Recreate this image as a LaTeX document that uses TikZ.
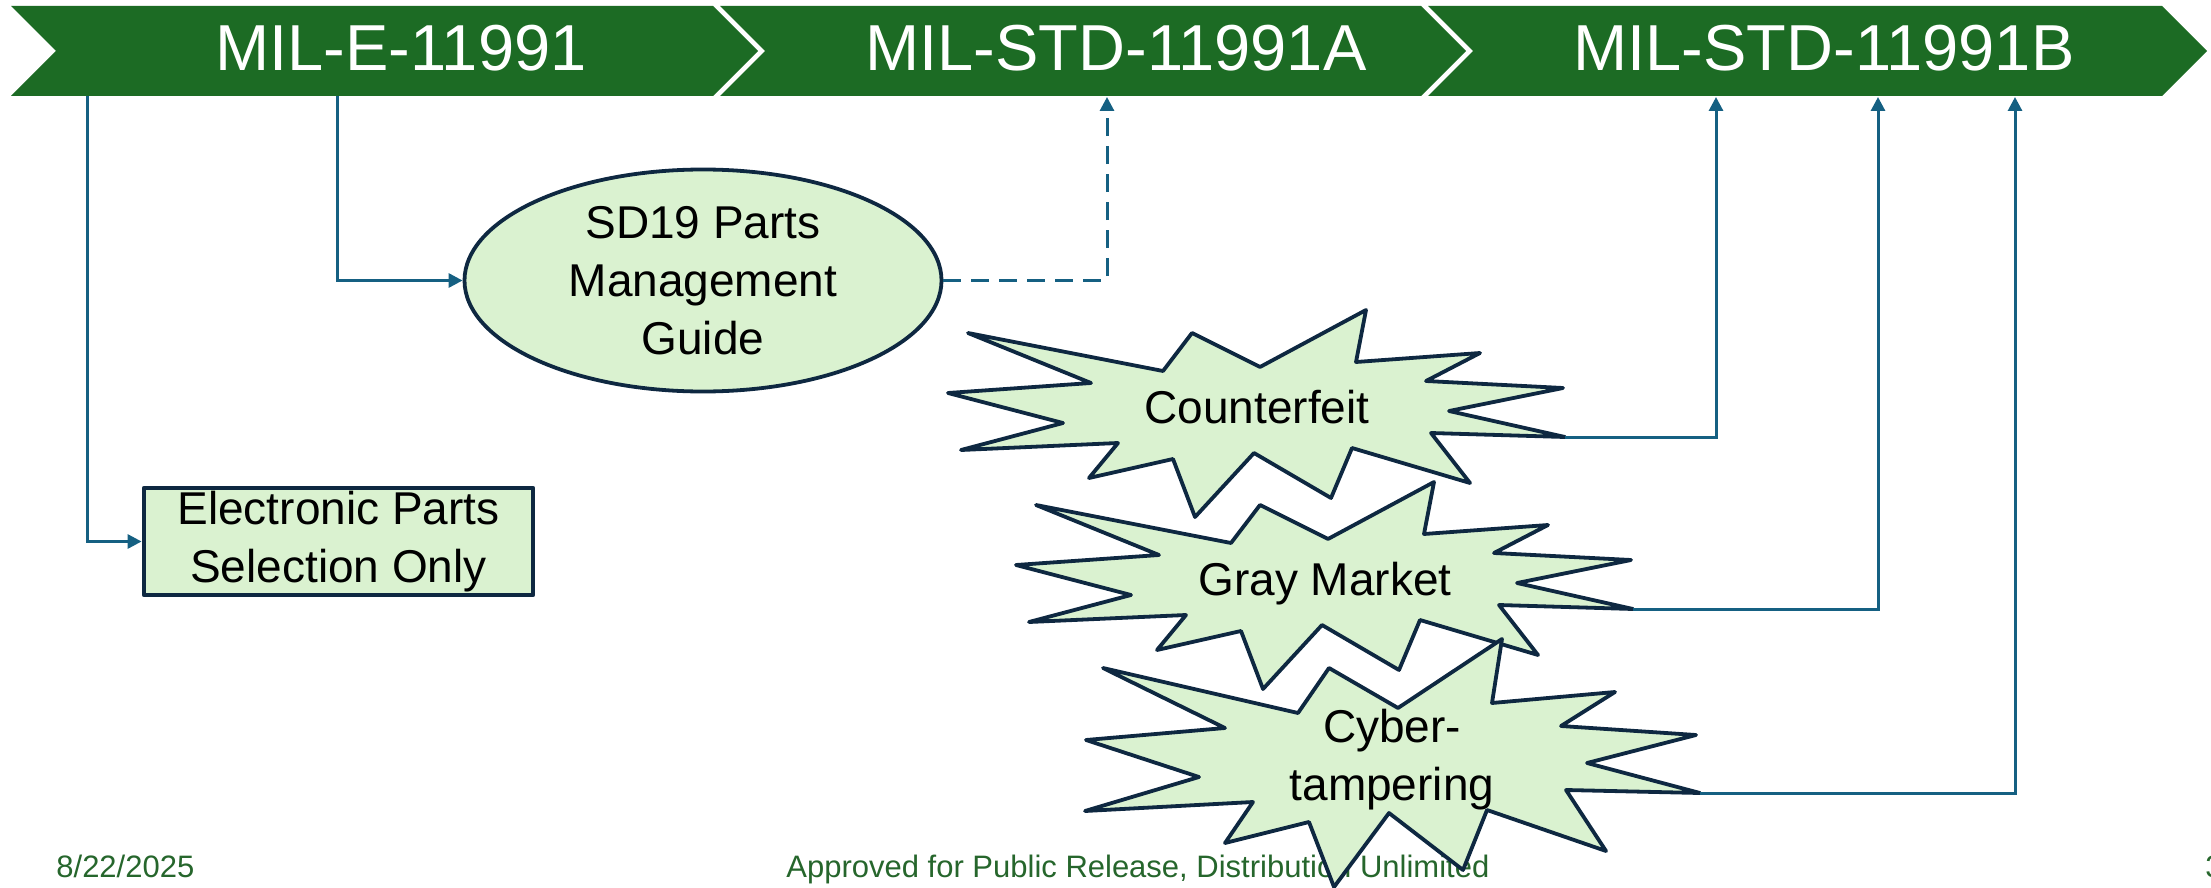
\documentclass[tikz,border=0pt]{standalone}
\usepackage{fontspec}
\setmainfont{Liberation Sans}
\usetikzlibrary{arrows.meta,shapes.geometric}
\definecolor{bandgreen}{RGB}{28,107,36}
\definecolor{lightfill}{RGB}{218,242,208}
\definecolor{navy}{RGB}{14,40,65}
\definecolor{linkblue}{RGB}{21,96,130}
\definecolor{footgreen}{RGB}{38,102,44}
\begin{document}
\begin{tikzpicture}[x=0.5pt,y=-0.5pt,
  chev/.style={fill=bandgreen, draw=none},
  bandtext/.style={text=white, font=\fontsize{32.5}{39}\selectfont, anchor=base, inner sep=0},
  shapebox/.style={draw=navy, fill=lightfill, line width=1.9pt, line join=round},
  lbl/.style={font=\fontsize{23}{29}\selectfont, align=center, text=black, inner sep=0},
  link/.style={draw=linkblue, line width=1.5pt, -{Triangle[length=7pt,width=7pt]}},
  dashlink/.style={link, dash pattern=on 9pt off 5pt},
  foot/.style={text=footgreen, font=\fontsize{15.5}{18}\selectfont, anchor=base west, inner sep=0}
]
\useasboundingbox (0,0) rectangle (2211,888);

% chevron band
\fill[chev] (11,6) -- (713,6) -- (758,51) -- (713,96) -- (11,96) -- (56,51) -- cycle;
\fill[chev] (720,6) -- (1421,6) -- (1466,51) -- (1421,96) -- (720,96) -- (765,51) -- cycle;
\fill[chev] (1428,6) -- (2162,6) -- (2207,51) -- (2162,96) -- (1428,96) -- (1473,51) -- cycle;
\node[bandtext] (t1) at (401,71) {MIL-E-11991};
\node[bandtext] (t2) at (1116,71) {MIL-STD-11991A};
\node[bandtext] (t3) at (1824,71) {MIL-STD-11991B};

% footer
\node[foot] (date) at (56,877) {8/22/2025};
\node[foot] (appr) at (786,877) {Approved for Public Release, Distribution Unlimited};
\node[foot] (pg) at (2205,877) {3};

% band anchor points
\coordinate (b1) at (87,96);
\coordinate (b2) at (337,96);
\coordinate (a1) at (1107,97);
\coordinate (c1) at (1716,97);
\coordinate (c2) at (1878,97);
\coordinate (c3) at (2015,97);

% boxes
\node[shapebox, line width=2.4pt, rectangle, minimum width=194.5pt, minimum height=53.5pt, lbl] (eps) at (338.5,541.5) {Electronic Parts\\Selection Only};
\node[shapebox, ellipse, minimum width=238.5pt, minimum height=111pt, lbl] (sd19) at (703,280.5) {SD19 Parts\\Management\\Guide};

% starbursts
\draw[shapebox] (968,333) -- (1163,371) -- (1192,333) -- (1260,367) -- (1366,310) -- (1356,362) -- (1480,353) -- (1426,381) -- (1563,388) -- (1449,411) -- (1565,437) -- (1431,433) -- (1470,483) -- (1352,448) -- (1331,498) -- (1254,453) -- (1195,517) -- (1173,459) -- (1089,478) -- (1118,443) -- (961,450) -- (1063,423) -- (948,393) -- (1091,383) -- cycle;
\coordinate (cftip) at (1565,437);
\begin{scope}[shift={(68,172)}]
\draw[shapebox] (968,333) -- (1163,371) -- (1192,333) -- (1260,367) -- (1366,310) -- (1356,362) -- (1480,353) -- (1426,381) -- (1563,388) -- (1449,411) -- (1565,437) -- (1431,433) -- (1470,483) -- (1352,448) -- (1331,498) -- (1254,453) -- (1195,517) -- (1173,459) -- (1089,478) -- (1118,443) -- (961,450) -- (1063,423) -- (948,393) -- (1091,383) -- cycle;
\coordinate (gmtip) at (1565,437);
\end{scope}
\draw[shapebox] (1103,668) -- (1298,713) -- (1329,668) -- (1398,708) -- (1502,639) -- (1492,703) -- (1615,692) -- (1561,726) -- (1696,735) -- (1587,763) -- (1700,793) -- (1566,790) -- (1606,851) -- (1487,810) -- (1463,870) -- (1389,813) -- (1334,887) -- (1309,822) -- (1225,843) -- (1253,802) -- (1085,811) -- (1199,777) -- (1086,740) -- (1225,728) -- cycle;
\coordinate (cytip) at (1700,793);

\node[lbl, anchor=base] (cf) at (1257,423) {Counterfeit};
\node[lbl, anchor=base] (gm) at (1325,595) {Gray Market};
\node[lbl] (cy) at (1392,760) {Cyber-\\tampering};

% connectors
\draw[link] (b1) |- (eps.west);
\draw[link] (b2) |- (sd19.west);
\draw[dashlink] (sd19.east) -| (a1);
\draw[link] (cftip) -| (c1);
\draw[link] (gmtip) -| (c2);
\draw[link] (cytip) -| (c3);
\end{tikzpicture}
\end{document}
